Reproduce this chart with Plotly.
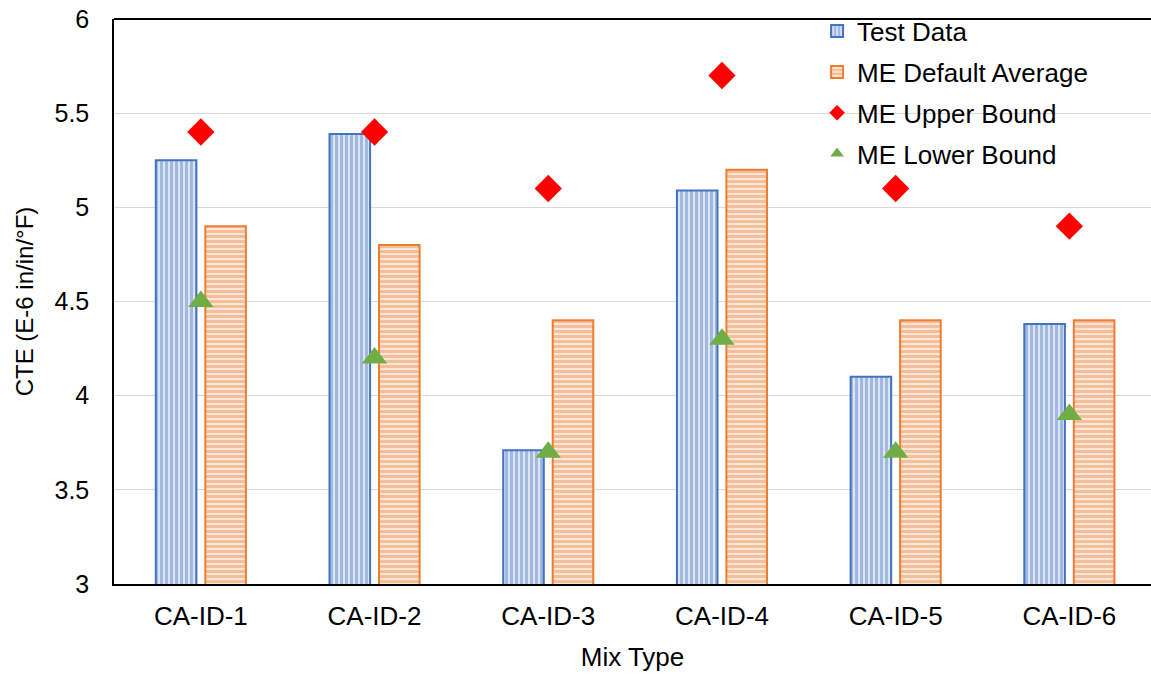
import plotly.graph_objects as go

# Mix types and coefficient of thermal expansion values (E-6 in/in/°F)
mix_types = ["CA-ID-1", "CA-ID-2", "CA-ID-3", "CA-ID-4", "CA-ID-5", "CA-ID-6"]
test_data = [5.25, 5.39, 3.71, 5.09, 4.10, 4.38]
me_default_avg = [4.9, 4.8, 4.4, 5.2, 4.4, 4.4]
me_upper = [5.4, 5.4, 5.1, 5.7, 5.1, 4.9]
me_lower = [4.5, 4.2, 3.7, 4.3, 3.7, 3.9]

y_ticks = [3, 3.5, 4, 4.5, 5, 5.5, 6]
y_tick_text = ["3", "3.5", "4", "4.5", "5", "5.5", "6"]

FONT = "Liberation Sans, Arial, sans-serif"
BLUE = "#4472C4"
ORANGE = "#ED7D31"
RED = "#FF0000"
GREEN = "#70AD47"

fig = go.Figure()

fig.add_trace(go.Bar(
    name="Test Data", x=mix_types, y=test_data, base=0,
    marker=dict(
        color="white",
        line=dict(color=BLUE, width=2),
        pattern=dict(shape="|", fgcolor=BLUE, bgcolor="white",
                     size=5, solidity=0.75, fillmode="overlay"),
    ),
    legendgroup="a",
))
fig.add_trace(go.Bar(
    name="ME Default Average", x=mix_types, y=me_default_avg, base=0,
    marker=dict(
        color="white",
        line=dict(color=ORANGE, width=2),
        pattern=dict(shape="-", fgcolor=ORANGE, bgcolor="white",
                     size=5, solidity=0.75, fillmode="overlay"),
    ),
    legendgroup="b",
))
fig.add_trace(go.Scatter(
    name="ME Upper Bound", x=mix_types, y=me_upper, mode="markers",
    marker=dict(symbol="diamond", size=21, color=RED, line=dict(width=0)),
    legendgroup="c",
))
fig.add_trace(go.Scatter(
    name="ME Lower Bound", x=mix_types, y=me_lower, mode="markers",
    marker=dict(symbol="triangle-up", size=22, color=GREEN, line=dict(width=0)),
    legendgroup="d",
))

fig.update_layout(
    width=1151, height=679,
    margin=dict(l=114, r=0, t=19, b=95),
    paper_bgcolor="white", plot_bgcolor="white",
    font=dict(family=FONT, size=25, color="#000000"),
    barmode="group", bargap=0.43, bargroupgap=0.18,
    showlegend=True,
    legend=dict(
        x=0.678, y=1.02, xanchor="left", yanchor="top",
        bgcolor="rgba(0,0,0,0)", font=dict(size=26),
        tracegroupgap=4, itemsizing="constant",
    ),
    xaxis=dict(
        type="category", range=[-0.5, 5.47],
        showline=True, linecolor="black", linewidth=2,
        showgrid=False, ticks="", ticklen=0, ticklabelstandoff=8,
        title=dict(text="Mix Type", font=dict(size=26), standoff=18),
        tickfont=dict(size=26),
    ),
    yaxis=dict(
        range=[3, 6], tickvals=y_ticks, ticktext=y_tick_text,
        showline=True, linecolor="black", linewidth=1.5,
        showgrid=True, gridcolor="#D9D9D9", gridwidth=1,
        zeroline=False, ticks="", ticklabelstandoff=18,
        title=dict(text="CTE (E-6 in/in/°F)", font=dict(size=24), standoff=14),
        tickfont=dict(size=25),
    ),
    shapes=[dict(type="line", xref="paper", yref="paper",
                 x0=0, x1=1, y0=1, y1=1,
                 line=dict(color="black", width=2))],
)

fig.write_html("out.html")
